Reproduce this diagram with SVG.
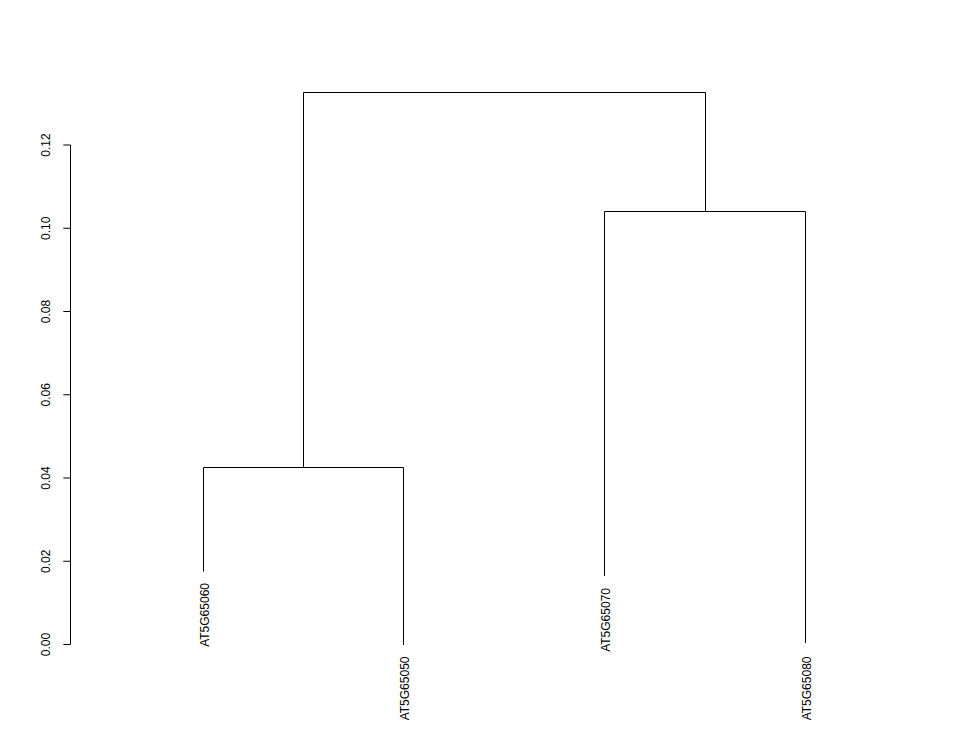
<svg xmlns="http://www.w3.org/2000/svg" width="974" height="755" viewBox="0 0 974 755">
<style>
.ln{stroke:#000;stroke-width:1;fill:none}
.t{font-family:"Liberation Sans",Arial,sans-serif;font-size:12px;fill:#000}
.tick{text-anchor:middle}
.lab{text-anchor:end}
</style>
<rect width="974" height="755" fill="#fff"/>
<g id="axis">
<path class="ln" d="M70.5,145 V644.5 M63.3,644.5 H70.5 M63.3,561.25 H70.5 M63.3,478 H70.5 M63.3,394.75 H70.5 M63.3,311.5 H70.5 M63.3,228.25 H70.5 M63.3,145 H70.5"/>
<text class="t tick" transform="translate(50,644.5) rotate(-90)">0.00</text>
<text class="t tick" transform="translate(50,561.25) rotate(-90)">0.02</text>
<text class="t tick" transform="translate(50,478) rotate(-90)">0.04</text>
<text class="t tick" transform="translate(50,394.75) rotate(-90)">0.06</text>
<text class="t tick" transform="translate(50,311.5) rotate(-90)">0.08</text>
<text class="t tick" transform="translate(50,228.25) rotate(-90)">0.10</text>
<text class="t tick" transform="translate(50,145) rotate(-90)">0.12</text>
</g>
<g id="connectors">
<path class="ln" d="M203.5,571.5 V467.5 H403.5 V645"/>
<path class="ln" d="M604.5,576 V211.5 H805.5 V643"/>
<path class="ln" d="M303.5,467.5 V92.5 H705.5 V211.5"/>
</g>
<g id="leaf-AT5G65060"><text class="t lab" transform="translate(208.5,583) rotate(-90)">AT5G65060</text></g>
<g id="leaf-AT5G65050"><text class="t lab" transform="translate(408.5,656.5) rotate(-90)">AT5G65050</text></g>
<g id="leaf-AT5G65070"><text class="t lab" transform="translate(609.5,588) rotate(-90)">AT5G65070</text></g>
<g id="leaf-AT5G65080"><text class="t lab" transform="translate(810.5,656.5) rotate(-90)">AT5G65080</text></g>
</svg>
